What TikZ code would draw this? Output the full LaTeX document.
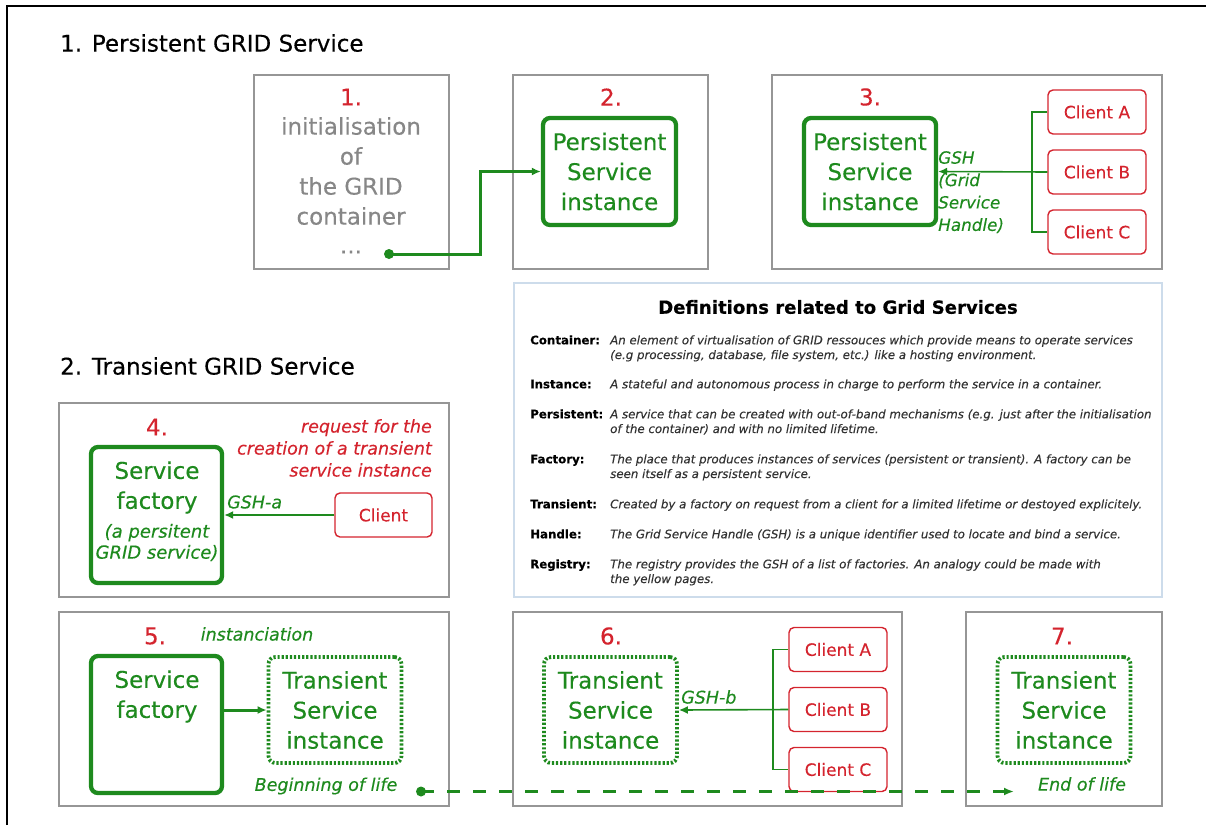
\documentclass[tikz,border=0pt]{standalone}
\usepackage{fontspec}
\setmainfont{DejaVu Sans}[FakeBold=0.25]
\usetikzlibrary{arrows.meta}
\definecolor{gr}{RGB}{30,138,30}
\definecolor{rd}{RGB}{212,36,46}
\definecolor{bxg}{RGB}{150,150,150}
\definecolor{txg}{RGB}{135,135,135}
\definecolor{dfb}{RGB}{205,220,235}
\newcommand\fbig{\fontsize{23}{30}\selectfont}
\newcommand\fcli{\fontsize{17}{22}\selectfont}
\newcommand\flab{\fontsize{17.5}{22}\selectfont\itshape}
\newcommand\fgsh{\fontsize{16.8}{22.4}\selectfont\itshape}
\newcommand\fdef{\fontsize{11.8}{15}\selectfont}
\begin{document}
\begin{tikzpicture}[x=1pt,y=-1pt,
  frame/.style={draw=bxg,line width=1.5pt,inner sep=0},
  pbox/.style={draw=gr,line width=4.3pt,rounded corners=7pt,inner sep=0,text=gr,font=\fbig,align=center},
  tbox/.style={draw=gr,line width=3.8pt,dash pattern=on 2.2pt off 1.9pt,rounded corners=7pt,inner sep=0,text=gr,font=\fbig,align=center,minimum width=133pt,minimum height=106pt},
  cbox/.style={draw=rd,line width=1.4pt,rounded corners=5pt,text=rd,font=\fcli,minimum width=98pt,minimum height=44pt,inner sep=0},
  num/.style={text=rd,font=\fbig,inner sep=0},
  gtext/.style={text=gr,inner sep=0},
  link/.style={draw=gr,line width=1.6pt},
  arr/.style={-{Latex[length=9pt,width=8pt]}},
  term/.style={anchor=base west,font=\fdef\bfseries,inner sep=0},
  defn/.style={anchor=base west,font=\fdef\itshape,inner sep=0,text=black!80}
]
\useasboundingbox (0,0) rectangle (1206,825);
\draw[line width=1.5pt,black] (7,825) -- (7,6) -- (1206,6);

% ---------- Section 1 ----------
\node[anchor=west,font=\fbig,inner sep=0] (t1) at (60,43) {1. Persistent GRID Service};
\node[frame,minimum width=195pt,minimum height=194pt] (b1) at (351.5,172) {};
\node[frame,minimum width=195pt,minimum height=194pt] (b2) at (610.5,172) {};
\node[frame,minimum width=390pt,minimum height=194pt] (b3) at (967,172) {};

\node[num] (n1) at (351,97) {1.};
\node[text=txg,font=\fbig,align=center,inner sep=0] (i1) at (351,171) {initialisation\\of\\the GRID\\container};
\node[text=txg,font=\fbig,inner sep=0] (i1d) at (351,252) {...};

\node[num] (n2) at (611,97) {2.};
\node[pbox,minimum width=133pt,minimum height=107pt] (p2) at (609.5,171.5) {Persistent\\Service\\instance};

\node[num] (n3) at (870,97) {3.};
\node[pbox,minimum width=132pt,minimum height=107pt] (p3) at (870,171.5) {Persistent\\Service\\instance};

\node[cbox] (cA3) at (1097,112) {Client A};
\node[cbox] (cB3) at (1097,172) {Client B};
\node[cbox] (cC3) at (1097,232) {Client C};
\coordinate (br3) at (1032,172);
\draw[link,line width=1.3pt] (cA3.west) -| (br3) |- (cC3.west);
\draw[link,arr] (cB3.west) -- (p3.east);
\node[gtext,font=\fgsh,align=left,anchor=north west] (gsh) at (938,151) {GSH\\(Grid\\Service\\Handle)};

\coordinate (d1) at (389,254);
\coordinate (el1) at (480,171.5);
\fill[gr] (d1) circle (5pt);
\draw[link,line width=3pt,arr] (d1) -| (el1) -- (p2.west);

% ---------- Definitions ----------
\node[anchor=west,font=\fbig,inner sep=0] (t2) at (60,366) {2. Transient GRID Service};
\node[draw=dfb,line width=1.5pt,minimum width=648pt,minimum height=314pt,inner sep=0] (db) at (838,440) {};
\node[font=\fontsize{18.1}{20}\selectfont\bfseries,inner sep=0] (dt) at (838,307) {Definitions related to Grid Services};

\node[term] (k1) at (530,344.3) {Container:};
\node[defn] (v1a) at (610,344.3) {An element of virtualisation of GRID ressouces which provide means to operate services};
\node[defn] (v1b) at (610,359) {(e.g processing, database, file system, etc.) like a hosting environment.};
\node[term] (k2) at (530,388.3) {Instance:};
\node[defn] (v2a) at (610,388.3) {A stateful and autonomous process in charge to perform the service in a container.};
\node[term] (k3) at (530,418.3) {Persistent:};
\node[defn] (v3a) at (610,418.3) {A service that can be created with out-of-band mechanisms (e.g. just after the initialisation};
\node[defn] (v3b) at (610,433) {of the container) and with no limited lifetime.};
\node[term] (k4) at (530,463.3) {Factory:};
\node[defn] (v4a) at (610,463.3) {The place that produces instances of services (persistent or transient). A factory can be};
\node[defn] (v4b) at (610,478) {seen itself as a persistent service.};
\node[term] (k5) at (530,508.3) {Transient:};
\node[defn] (v5a) at (610,508.3) {Created by a factory on request from a client for a limited lifetime or destoyed explicitely.};
\node[term] (k6) at (530,538.3) {Handle:};
\node[defn] (v6a) at (610,538.3) {The Grid Service Handle (GSH) is a unique identifier used to locate and bind a service.};
\node[term] (k7) at (530,568.3) {Registry:};
\node[defn] (v7a) at (610,568.3) {The registry provides the GSH of a list of factories. An analogy could be made with};
\node[defn] (v7b) at (610,583) {the yellow pages.};

% ---------- Box 4 ----------
\node[frame,minimum width=390pt,minimum height=194pt] (b4) at (254,500) {};
\node[num] (n4) at (157,427) {4.};
\node[draw=gr,line width=4.3pt,rounded corners=7pt,minimum width=131pt,minimum height=136pt,inner sep=0] (f4) at (156.5,515) {};
\node[gtext,font=\fbig,align=center] (f4t) at (157,487.5) {Service\\factory};
\node[gtext,font=\fontsize{18}{21}\selectfont\itshape,align=center] (f4s) at (157,542.5) {(a persitent\\GRID service)};
\node[text=rd,font=\flab,align=right,anchor=east,inner sep=0] (rq) at (432,448) {request for the\\creation of a transient\\service instance};
\node[cbox,minimum width=97pt] (c4) at (383.5,515) {Client};
\draw[link,arr] (c4.west) -- (f4.east);
\node[gtext,font=\flab,anchor=west] (ga) at (227,502) {GSH-a};

% ---------- Box 5 ----------
\node[frame,minimum width=390pt,minimum height=194pt] (b5) at (254,709) {};
\node[num] (n5) at (155,636) {5.};
\node[gtext,font=\flab] (ins) at (257,634) {instanciation};
\node[draw=gr,line width=4.3pt,rounded corners=7pt,minimum width=131pt,minimum height=137pt,inner sep=0] (f5) at (156.5,724.5) {};
\node[gtext,font=\fbig,align=center] (f5t) at (157,696.5) {Service\\factory};
\node[tbox] (t5) at (335,710) {Transient\\Service\\instance};
\draw[link,line width=3pt,arr] (f5.east |- t5.west) -- (t5.west);
\node[gtext,font=\flab] (bol) at (326,786) {Beginning of life};
\coordinate (d5) at (421,791.5);
\fill[gr] (d5) circle (5pt);

% ---------- Box 6 ----------
\node[frame,minimum width=389pt,minimum height=194pt] (b6) at (707.5,709) {};
\node[num] (n6) at (611,636) {6.};
\node[tbox] (t6) at (610.5,710) {Transient\\Service\\instance};
\node[cbox] (cA6) at (838,649.5) {Client A};
\node[cbox] (cB6) at (838,709.5) {Client B};
\node[cbox] (cC6) at (838,769.5) {Client C};
\coordinate (br6) at (773,709.5);
\draw[link,line width=1.3pt] (cA6.west) -| (br6) |- (cC6.west);
\draw[link,arr] (cB6.west) -- (t6.east);
\node[gtext,font=\flab,anchor=west] (gb) at (681,697) {GSH-b};

% ---------- Box 7 ----------
\node[frame,minimum width=196pt,minimum height=194pt] (b7) at (1064,709) {};
\node[num] (n7) at (1062,636) {7.};
\node[tbox] (t7) at (1064,710) {Transient\\Service\\instance};
\node[gtext,font=\flab] (eol) at (1082,784) {End of life};
\coordinate (e7) at (1014,791.5);
\draw[draw=gr,line width=2.3pt,dash pattern=on 13pt off 13pt,-{Latex[length=10pt,width=8pt]}] (d5) -- (e7);
\end{tikzpicture}
\end{document}
